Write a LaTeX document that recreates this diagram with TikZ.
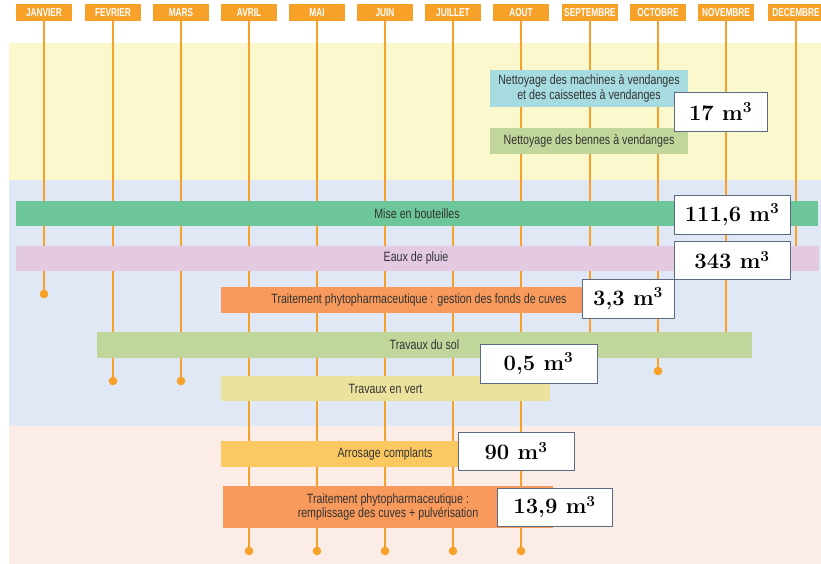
\documentclass[tikz,border=0pt]{standalone}
\usepackage{fontspec}
\newfontfamily\condfont[FakeStretch=0.79]{Liberation Sans}
\newfontfamily\moisfont[FakeStretch=0.72]{Liberation Sans}
\usepackage{tikz}
\definecolor{moisorange}{HTML}{F7A128}
\definecolor{bandjaune}{HTML}{FBF8CD}
\definecolor{bandbleu}{HTML}{DFE8F4}
\definecolor{bandrose}{HTML}{FCECE8}
\definecolor{barcyan}{HTML}{A6DCE0}
\definecolor{barkaki}{HTML}{C1D69A}
\definecolor{barvert}{HTML}{6DC699}
\definecolor{barmauve}{HTML}{E3C9E2}
\definecolor{barsaumon}{HTML}{F79A5C}
\definecolor{barpaille}{HTML}{EBE39D}
\definecolor{barjaune}{HTML}{FCC862}
\definecolor{textgris}{HTML}{333333}
\definecolor{cadre}{HTML}{5B6B82}
\tikzset{
	mois/.style={fill=moisorange, minimum width=56pt, minimum height=17pt, inner sep=0pt, text=white, font=\moisfont\bfseries\fontsize{11.5}{11.5}\selectfont},
	moisline/.style={draw=moisorange, line width=2pt},
	bartext/.style={text=textgris, font=\condfont\fontsize{13.5}{14.5}\selectfont, align=center, inner sep=0pt},
	volume/.style={draw=cadre, fill=white, line width=0.8pt, inner sep=0pt, font=\bfseries\fontsize{22}{24}\selectfont},
}

\begin{document}
\begin{tikzpicture}[x=1pt, y=-1pt]
		%%%%% START %%%%%
		\useasboundingbox (0, 0) rectangle (821, 564);
		
		\fill[bandjaune] (9, 43) rectangle (821, 180);
		\fill[bandbleu] (9, 180) rectangle (821, 426);
		\fill[bandrose] (9, 426) rectangle (821, 564);
		
		\node[mois] (jan) at (44, 12.7) {JANVIER};
		\node[mois] (fev) at (113, 12.7) {FEVRIER};
		\node[mois] (mar) at (181, 12.7) {MARS};
		\node[mois] (avr) at (249, 12.7) {AVRIL};
		\node[mois] (mai) at (317, 12.7) {MAI};
		\node[mois] (jun) at (385, 12.7) {JUIN};
		\node[mois] (jul) at (453, 12.7) {JUILLET};
		\node[mois] (aou) at (521, 12.7) {AOUT};
		\node[mois] (sep) at (590, 12.7) {SEPTEMBRE};
		\node[mois] (oct) at (658, 12.7) {OCTOBRE};
		\node[mois] (nov) at (726, 12.7) {NOVEMBRE};
		\node[mois] (dec) at (796, 12.7) {DECEMBRE};
		
		\coordinate (jan end) at (44, 294);
		\coordinate (fev end) at (113, 381);
		\coordinate (mar end) at (181, 381);
		\coordinate (avr end) at (249, 551);
		\coordinate (mai end) at (317, 551);
		\coordinate (jun end) at (385, 551);
		\coordinate (jul end) at (453, 551);
		\coordinate (aou end) at (521, 551);
		\coordinate (sep end) at (590, 380);
		\coordinate (oct end) at (658, 371);
		\coordinate (nov end) at (726, 345);
		\coordinate (dec end) at (796, 258);
		
		\draw[moisline] (jan.south) -- (jan end);
		\draw[moisline] (fev.south) -- (fev end);
		\draw[moisline] (mar.south) -- (mar end);
		\draw[moisline] (avr.south) -- (avr end);
		\draw[moisline] (mai.south) -- (mai end);
		\draw[moisline] (jun.south) -- (jun end);
		\draw[moisline] (jul.south) -- (jul end);
		\draw[moisline] (aou.south) -- (aou end);
		\draw[moisline] (sep.south) -- (sep end);
		\draw[moisline] (oct.south) -- (oct end);
		\draw[moisline] (nov.south) -- (nov end);
		\draw[moisline] (dec.south) -- (dec end);
		
		\fill[moisorange] (jan end) circle (4.3);
		\fill[moisorange] (fev end) circle (4.3);
		\fill[moisorange] (mar end) circle (4.3);
		\fill[moisorange] (avr end) circle (4.3);
		\fill[moisorange] (mai end) circle (4.3);
		\fill[moisorange] (jun end) circle (4.3);
		\fill[moisorange] (jul end) circle (4.3);
		\fill[moisorange] (aou end) circle (4.3);
		\fill[moisorange] (sep end) circle (4.3);
		\fill[moisorange] (oct end) circle (4.3);
		\fill[moisorange] (nov end) circle (4.3);
		\fill[moisorange] (dec end) circle (4.3);
		
		\fill[barcyan] (490, 70) rectangle (688, 107);
		\node[bartext] (machines) at (589, 88.5) {Nettoyage des machines à vendanges\\et des caissettes à vendanges};
		\fill[barkaki] (490, 128) rectangle (688, 154);
		\node[bartext] (bennes) at (589, 141) {Nettoyage des bennes à vendanges};
		
		\fill[barvert] (16, 201) rectangle (818, 226);
		\node[bartext] (bouteilles) at (417, 213.5) {Mise en bouteilles};
		\fill[barmauve] (16, 246) rectangle (819, 271);
		\node[bartext] (pluie) at (416, 258.5) {Eaux de pluie};
		\fill[barsaumon] (221, 287) rectangle (617, 313);
		\node[bartext] (fonds) at (419, 300) {Traitement phytopharmaceutique : gestion des fonds de cuves};
		\fill[barkaki] (97, 332) rectangle (752, 358);
		\node[bartext] (sol) at (424.5, 345) {Travaux du sol};
		\fill[barpaille] (221, 376) rectangle (550, 401);
		\node[bartext] (vert) at (385.5, 388.5) {Travaux en vert};
		
		\fill[barjaune] (221, 441) rectangle (549, 467);
		\node[bartext] (arrosage) at (385, 454) {Arrosage complants};
		\fill[barsaumon] (223, 486) rectangle (553, 528);
		\node[bartext] (remplissage) at (388, 507) {Traitement phytopharmaceutique :\\remplissage des cuves + pulvérisation};
		
		\node[volume, minimum width=93pt, minimum height=39pt] (v17) at (720.5, 111.5) {17 m\textsuperscript{3}};
		\node[volume, minimum width=116pt, minimum height=39pt] (v111) at (732, 214.5) {111,6 m\textsuperscript{3}};
		\node[volume, minimum width=116pt, minimum height=38pt] (v343) at (732, 260) {343 m\textsuperscript{3}};
		\node[volume, minimum width=92pt, minimum height=39pt] (v33) at (628, 298.5) {3,3 m\textsuperscript{3}};
		\node[volume, minimum width=117pt, minimum height=39pt] (v05) at (538.5, 363.5) {0,5 m\textsuperscript{3}};
		\node[volume, minimum width=116pt, minimum height=38pt] (v90) at (516, 451) {90 m\textsuperscript{3}};
		\node[volume, minimum width=115pt, minimum height=38pt] (v139) at (554.5, 507) {13,9 m\textsuperscript{3}};
		
		%%%%% END %%%%%
	\end{tikzpicture}
\end{document}
